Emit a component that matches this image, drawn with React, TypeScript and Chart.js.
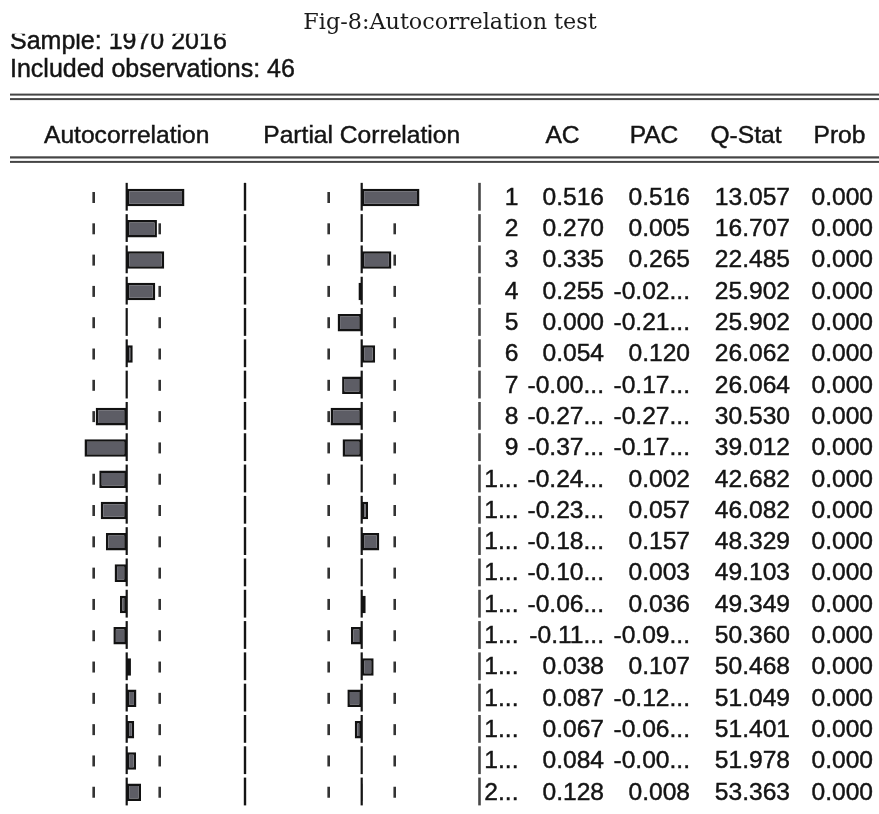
import React, { useEffect, useRef } from "react";
import { Chart, registerables } from "chart.js";

Chart.register(...registerables);

// ---------------- data ----------------
const titleText = "Fig-8:Autocorrelation test";
const sampleText = "Sample: 1970 2016";
const obsText = "Included observations: 46";
const nObs = 46;

const lags = [1, 2, 3, 4, 5, 6, 7, 8, 9, 10, 11, 12, 13, 14, 15, 16, 17, 18, 19, 20];
const acValues = [
  0.516, 0.27, 0.335, 0.255, 0.0, 0.054, -0.006, -0.277, -0.377, -0.245,
  -0.232, -0.186, -0.108, -0.06, -0.119, 0.038, 0.087, 0.067, 0.084, 0.128,
];
const pacValues = [
  0.516, 0.005, 0.265, -0.029, -0.215, 0.12, -0.175, -0.278, -0.171, 0.002,
  0.057, 0.157, 0.003, 0.036, -0.096, 0.107, -0.128, -0.062, -0.005, 0.008,
];
const qStats = [
  13.057, 16.707, 22.485, 25.902, 25.902, 26.062, 26.064, 30.53, 39.012, 42.682,
  46.082, 48.329, 49.103, 49.349, 50.36, 50.468, 51.049, 51.401, 51.978, 53.363,
];
const probs = [
  0.0, 0.0, 0.0, 0.0, 0.0, 0.0, 0.0, 0.0, 0.0, 0.0,
  0.0, 0.0, 0.0, 0.0, 0.0, 0.0, 0.0, 0.0, 0.0, 0.0,
];
const headers = ["Autocorrelation", "Partial Correlation", "AC", "PAC", "Q-Stat", "Prob"];

// ---------------- layout ----------------
const W = 879;
const H = 814;
const PX_PER_UNIT = 112;
const AC_ZERO = 126.7;
const PAC_ZERO = 361.7;
const SEP_X = 245;
const TABLE_X = 479.5;
const COL_LAG = 518.5;
const COL_AC = 604;
const COL_PAC = 690;
const COL_Q = 790;
const COL_PROB = 873;
const FONT = "'Liberation Sans', Arial, sans-serif";
const TEXT_COLOR = "#141414";

const fmt3 = (v: number) => (Math.abs(v) < 1e-12 ? 0 : v).toFixed(3);
const cell = (s: string, max: number) => (s.length > max ? s.slice(0, max) + "..." : s);

function boldish(ctx: CanvasRenderingContext2D, s: string, x: number, y: number) {
  ctx.fillText(s, x, y);
  ctx.strokeText(s, x, y);
}

const correlogramPlugin = {
  id: "correlogram",
  beforeDatasetsDraw(chart: any) {
    const ctx = chart.ctx as CanvasRenderingContext2D;
    const y = chart.scales.y;
    const bound = 2 / Math.sqrt(nObs);
    ctx.save();
    ctx.strokeStyle = "#333333";
    ctx.lineWidth = 2.6;
    lags.forEach((_, i) => {
      const cy = y.getPixelForValue(i);
      [chart.scales.xAC, chart.scales.xPAC].forEach((s: any) => {
        [-bound, bound].forEach((b) => {
          const x = s.getPixelForValue(b);
          ctx.beginPath();
          ctx.moveTo(x, cy - 5.5);
          ctx.lineTo(x, cy + 5.5);
          ctx.stroke();
        });
      });
    });
    ctx.restore();
  },
  afterDatasetsDraw(chart: any) {
    const ctx = chart.ctx as CanvasRenderingContext2D;
    const y = chart.scales.y;
    const band = y.getPixelForValue(1) - y.getPixelForValue(0);
    const xs = [
      { x: chart.scales.xAC.getPixelForValue(0), c: "#141414", w: 2.2 },
      { x: chart.scales.xPAC.getPixelForValue(0), c: "#141414", w: 2.2 },
      { x: SEP_X, c: "#141414", w: 2.4 },
      { x: TABLE_X, c: "#474747", w: 2.6 },
    ];
    ctx.save();
    lags.forEach((_, i) => {
      const cy = y.getPixelForValue(i);
      const top = cy - band / 2 + 1;
      const bot = cy + band / 2 - 2.5;
      xs.forEach((l) => {
        ctx.strokeStyle = l.c;
        ctx.lineWidth = l.w;
        ctx.beginPath();
        ctx.moveTo(l.x, top);
        ctx.lineTo(l.x, bot);
        ctx.stroke();
      });
    });
    ctx.restore();
  },
  afterDraw(chart: any) {
    const ctx = chart.ctx as CanvasRenderingContext2D;
    const y = chart.scales.y;
    ctx.save();
    // title
    ctx.fillStyle = "#1a1a1a";
    ctx.font = "22.3px 'DejaVu Serif', serif";
    ctx.textAlign = "center";
    ctx.textBaseline = "alphabetic";
    ctx.fillText(titleText, 450, 28.5);

    ctx.fillStyle = TEXT_COLOR;
    ctx.strokeStyle = TEXT_COLOR;
    ctx.lineWidth = 0.45;

    // sample (clipped at top) and observations
    ctx.font = `25px ${FONT}`;
    ctx.textAlign = "left";
    ctx.save();
    ctx.beginPath();
    ctx.rect(0, 33.8, 400, 30);
    ctx.clip();
    boldish(ctx, sampleText, 10, 48.5);
    ctx.restore();
    boldish(ctx, obsText, 10, 77.3);

    // double rules
    ctx.fillStyle = "#454545";
    ctx.fillRect(10, 93.6, W - 10, 2);
    ctx.fillRect(10, 98.1, W - 10, 2);
    ctx.fillRect(10, 156.3, W - 10, 2.2);
    ctx.fillRect(10, 160.9, W - 10, 2);

    // headers
    ctx.fillStyle = TEXT_COLOR;
    ctx.font = `24.6px ${FONT}`;
    ctx.textAlign = "center";
    const hx = [
      chart.scales.xAC.getPixelForValue(0),
      chart.scales.xPAC.getPixelForValue(0),
      562.5,
      654,
      746,
      839.5,
    ];
    headers.forEach((h, i) => boldish(ctx, h, hx[i], 143));

    // table
    ctx.textAlign = "right";
    ctx.textBaseline = "middle";
    lags.forEach((lag, i) => {
      const cy = y.getPixelForValue(i) + 0.5;
      boldish(ctx, cell(String(lag), 1), COL_LAG, cy);
      boldish(ctx, cell(fmt3(acValues[i]), 5), COL_AC, cy);
      boldish(ctx, cell(fmt3(pacValues[i]), 5), COL_PAC, cy);
      boldish(ctx, qStats[i].toFixed(3), COL_Q, cy);
      boldish(ctx, probs[i].toFixed(3), COL_PROB, cy);
    });
    ctx.restore();
  },
};

export default function App() {
  const ref = useRef<HTMLCanvasElement | null>(null);
  useEffect(() => {
    if (!ref.current) return;
    const barStyle = {
      grouped: false,
      backgroundColor: "#5d5d65",
      borderColor: "#121212",
      borderWidth: 2.5,
      borderSkipped: false,
      barPercentage: 0.56,
      categoryPercentage: 1,
    };
    const chart = new Chart(ref.current, {
      type: "bar",
      data: {
        labels: lags.map(String),
        datasets: [
          { label: "AC", data: acValues, xAxisID: "xAC", yAxisID: "y", ...barStyle } as any,
          { label: "PAC", data: pacValues, xAxisID: "xPAC", yAxisID: "y", ...barStyle } as any,
        ],
      },
      options: {
        indexAxis: "y",
        responsive: false,
        animation: false,
        events: [],
        layout: { padding: { top: 181.85, bottom: H - 807.9, left: 0, right: 0 } },
        plugins: { legend: { display: false }, tooltip: { enabled: false } },
        scales: {
          y: { type: "category", display: false, offset: true, grid: { display: false } },
          xAC: {
            type: "linear",
            axis: "x",
            position: "bottom",
            display: false,
            min: -AC_ZERO / PX_PER_UNIT,
            max: (W - AC_ZERO) / PX_PER_UNIT,
          },
          xPAC: {
            type: "linear",
            axis: "x",
            position: "bottom",
            display: false,
            min: -PAC_ZERO / PX_PER_UNIT,
            max: (W - PAC_ZERO) / PX_PER_UNIT,
          },
        },
      } as any,
      plugins: [correlogramPlugin],
    });
    return () => chart.destroy();
  }, []);
  return (
    <div style={{ position: "absolute", left: 0, top: 0, width: W, height: H, background: "#fff" }}>
      <canvas ref={ref} width={W} height={H} style={{ display: "block" }} />
    </div>
  );
}
